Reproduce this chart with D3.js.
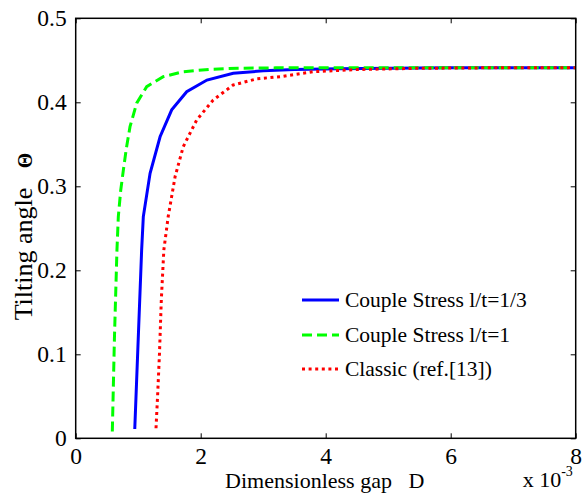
<!DOCTYPE html>
<html>
<head>
<meta charset="utf-8">
<script src="https://cdn.jsdelivr.net/npm/d3@7"></script>
<style>
  html, body { margin: 0; padding: 0; background: #fff; }
  svg { display: block; }
  svg text { white-space: pre; }
</style>
</head>
<body>
<svg id="chart" width="585" height="497"></svg>
<script>
// ---- data ----
const xTicks = [0, 2, 4, 6, 8];
const yTicks = [0, 0.1, 0.2, 0.3, 0.4, 0.5];
const yTickLabels = ["0", "0.1", "0.2", "0.3", "0.4", "0.5"];
const xTickLabels = ["0", "2", "4", "6", "8"];

const seriesNames = ["Couple Stress l/t=1/3", "Couple Stress l/t=1", "Classic (ref.[13])"];

const blueD     = [0.945, 1.055, 1.082, 1.19, 1.35, 1.536, 1.776, 2.10, 2.52, 3.0, 3.5, 4.2, 5, 6, 7, 8];
const blueTheta = [0.011, 0.224, 0.264, 0.3155, 0.359, 0.391, 0.4126, 0.4265, 0.4345, 0.4375, 0.439, 0.440, 0.4405, 0.441, 0.441, 0.441];

const greenD     = [0.586, 0.62, 0.66, 0.682, 0.72, 0.762, 0.81, 0.869, 0.976, 1.136, 1.40, 1.72, 2.15, 2.6, 3.2, 4, 5, 6, 7, 8];
const greenTheta = [0.008, 0.12, 0.224, 0.264, 0.295, 0.319, 0.345, 0.371, 0.399, 0.4186, 0.4305, 0.4364, 0.4393, 0.4405, 0.441, 0.441, 0.441, 0.441, 0.441, 0.441];

const redD     = [1.285, 1.31, 1.34, 1.37, 1.41, 1.48, 1.59, 1.72, 1.936, 2.2, 2.52, 2.9, 3.27, 3.8, 4.5, 5.5, 6.5, 8];
const redTheta = [0.012, 0.05, 0.10, 0.165, 0.224, 0.264, 0.3114, 0.347, 0.379, 0.4027, 0.4206, 0.428, 0.4305, 0.4364, 0.439, 0.4405, 0.441, 0.441];

// ---- layout ----
const FONT = "Liberation Serif";
const svg = d3.select("#chart");
const L = 75.7, R = 575.7, T = 18.3, B = 438.3;
const x = d3.scaleLinear().domain([0, 8]).range([L, R]);
const y = d3.scaleLinear().domain([0, 0.5]).range([B, T]);

const series = [
  { name: seriesNames[0], D: blueD,  th: blueTheta,  color: "#0000ff", dash: null },
  { name: seriesNames[1], D: greenD, th: greenTheta, color: "#00ff00", dash: "10,5" },
  { name: seriesNames[2], D: redD,   th: redTheta,   color: "#ff0000", dash: "3,3.6" }
];

const line = d3.line().x(d => x(d[0])).y(d => y(d[1]));

const plot = svg.append("g");
plot.append("defs").append("clipPath").attr("id", "clip")
  .append("rect").attr("x", L).attr("y", T).attr("width", R - L).attr("height", B - T);

const curves = plot.append("g").attr("clip-path", "url(#clip)");
series.forEach(s => {
  curves.append("path")
    .datum(s.D.map((d, i) => [d, s.th[i]]))
    .attr("d", line)
    .attr("fill", "none")
    .attr("stroke", s.color)
    .attr("stroke-width", 3)
    .attr("stroke-dasharray", s.dash);
});

// ---- axes (inward ticks on all four sides) ----
const tickLen = 5;
const fontTick = 23.5;
const axBottom = d3.axisBottom(x).tickValues(xTicks).tickSizeInner(-tickLen).tickSizeOuter(0)
  .tickPadding(tickLen + 4).tickFormat((d, i) => xTickLabels[i]);
const axLeft = d3.axisLeft(y).tickValues(yTicks).tickSizeInner(-tickLen).tickSizeOuter(0)
  .tickPadding(tickLen + 4).tickFormat((d, i) => yTickLabels[i]);
const axTop = d3.axisTop(x).tickValues(xTicks).tickSizeInner(-tickLen).tickSizeOuter(0).tickFormat("");
const axRight = d3.axisRight(y).tickValues(yTicks).tickSizeInner(-tickLen).tickSizeOuter(0).tickFormat("");

function styleAxis(g) {
  g.attr("font-family", FONT).attr("font-size", fontTick);
  g.select(".domain").remove();
  g.selectAll(".tick line").attr("stroke", "#000").attr("stroke-width", 1);
  g.selectAll("text").attr("fill", "#000");
}
svg.append("g").attr("transform", `translate(0,${B})`).call(axBottom).call(styleAxis);
svg.append("g").attr("transform", `translate(${L},0)`).call(axLeft).call(styleAxis);
svg.append("g").attr("transform", `translate(0,${T})`).call(axTop).call(styleAxis);
svg.append("g").attr("transform", `translate(${R},0)`).call(axRight).call(styleAxis);

// frame
svg.append("rect").attr("x", L).attr("y", T).attr("width", R - L).attr("height", B - T)
  .attr("fill", "none").attr("stroke", "#000").attr("stroke-width", 1.5);

// ---- axis labels ----
svg.append("text")
  .attr("x", 324.7).attr("y", 488)
  .attr("text-anchor", "middle")
  .attr("font-family", FONT).attr("font-size", 22)
  .text("Dimensionless gap   D");

const ylab = svg.append("text")
  .attr("transform", "translate(32,236.5) rotate(-90)")
  .attr("text-anchor", "middle")
  .attr("font-family", FONT).attr("font-size", 26);
ylab.append("tspan").text("Tilting angle   ");
ylab.append("tspan").attr("font-size", 20).attr("font-weight", "bold").text("\u0398");

const mult = svg.append("text").attr("x", 522.7).attr("y", 487)
  .attr("font-family", FONT).attr("font-size", 22);
mult.append("tspan").text("x 10");
mult.append("tspan").attr("dy", -11).attr("font-size", 14).text("-3");

// ---- legend (no box) ----
const legY = [300, 335, 369];
series.forEach((s, i) => {
  svg.append("line")
    .attr("x1", 302).attr("x2", 339).attr("y1", legY[i]).attr("y2", legY[i])
    .attr("stroke", s.color).attr("stroke-width", 3)
    .attr("stroke-dasharray", s.dash);
  svg.append("text")
    .attr("x", 345).attr("y", legY[i] + 7)
    .attr("font-family", FONT).attr("font-size", 21.5)
    .text(s.name);
});
</script>
</body>
</html>
